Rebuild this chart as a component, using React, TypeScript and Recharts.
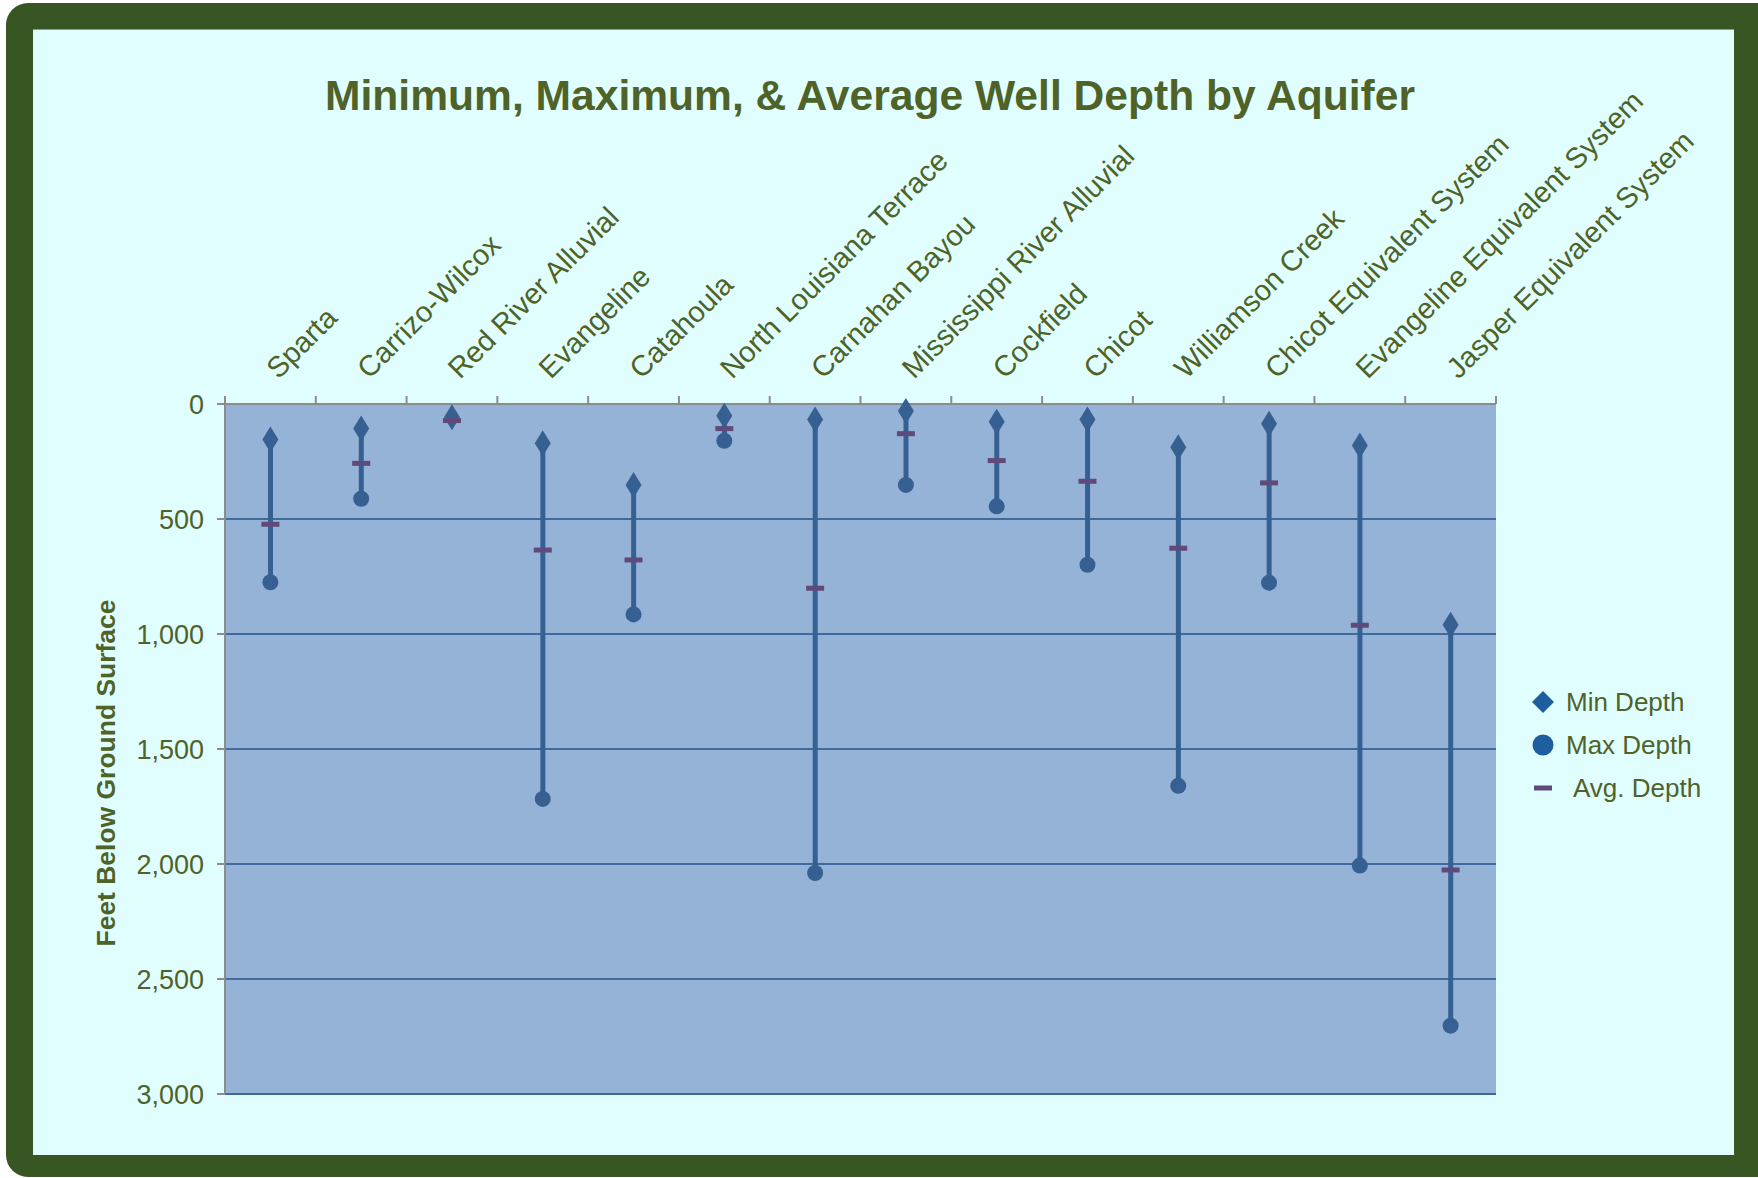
import React from 'react'
import { ComposedChart, Bar, Line, XAxis, YAxis, CartesianGrid } from 'recharts'

const aquifers = [
  'Sparta',
  'Carrizo-Wilcox',
  'Red River Alluvial',
  'Evangeline',
  'Catahoula',
  'North Louisiana Terrace',
  'Carnahan Bayou',
  'Mississippi River Alluvial',
  'Cockfield',
  'Chicot',
  'Williamson Creek',
  'Chicot Equivalent System',
  'Evangeline Equivalent System',
  'Jasper Equivalent System',
]
const minDepth = [154, 106, 58, 171, 352, 51, 67, 30, 77, 67, 188, 86, 180, 960]
const maxDepth = [775, 412, null, 1717, 915, 160, 2039, 352, 445, 699, 1660, 777, 2007, 2703]
const avgDepth = [523, 258, 72, 635, 678, 107, 801, 129, 246, 336, 627, 343, 962, 2026]
const depthTicks = [0, 500, 1000, 1500, 2000, 2500, 3000]
const seriesNames = ['Min Depth', 'Max Depth', 'Avg. Depth']

const W = 1758
const H = 1178
const PLOT_LEFT = 225
const PLOT_TOP = 404
const PLOT_RIGHT = 1496
const BAND = (PLOT_RIGHT - PLOT_LEFT) / aquifers.length

const FONT = '"Liberation Sans", Arial, sans-serif'
const TEXT = '#4F6228'
const MARK = '#366092'
const LEGEND_MARK = '#1D5E9E'
const AVG = '#604A7B'
const AXIS = '#8C8C8C'

const data = aquifers.map((name, i) => ({
  name,
  min: minDepth[i],
  max: maxDepth[i],
  avg: avgDepth[i],
  range: maxDepth[i] == null ? null : [minDepth[i], maxDepth[i]],
}))

const CategoryTick = (props: any) => {
  const { x, payload, index } = props
  const half = BAND / 2
  const tx = x + 8
  const ty = PLOT_TOP - 24
  return (
    <g>
      <line x1={x - half} x2={x - half} y1={PLOT_TOP - 8} y2={PLOT_TOP} stroke={AXIS} strokeWidth={2} />
      {index === aquifers.length - 1 && (
        <line x1={x + half} x2={x + half} y1={PLOT_TOP - 8} y2={PLOT_TOP} stroke={AXIS} strokeWidth={2} />
      )}
      <text
        x={tx}
        y={ty}
        transform={`rotate(-45, ${tx}, ${ty})`}
        fontSize={29}
        fontFamily={FONT}
        fill={TEXT}
        textAnchor="start"
      >
        {payload.value}
      </text>
    </g>
  )
}

const diamond = (props: any) => {
  const { cx, cy, index } = props
  if (cx == null || cy == null) return <g key={`d${index}`} />
  return (
    <path
      key={`d${index}`}
      d={`M${cx},${cy - 13} L${cx + 8},${cy} L${cx},${cy + 13} L${cx - 8},${cy} Z`}
      fill={MARK}
    />
  )
}

const circle = (props: any) => {
  const { cx, cy, index } = props
  if (cx == null || cy == null) return <g key={`c${index}`} />
  return <circle key={`c${index}`} cx={cx} cy={cy} r={8} fill={MARK} />
}

const dash = (props: any) => {
  const { cx, cy, index } = props
  if (cx == null || cy == null) return <g key={`a${index}`} />
  return <rect key={`a${index}`} x={cx - 9} y={cy - 2.5} width={18} height={5} fill={AVG} />
}

const LegendMarker = ({ i }: { i: number }) => (
  <svg width={26} height={26} style={{ display: 'block', flex: 'none' }}>
    {i === 0 && <path d="M13,2 L24,13 L13,24 L2,13 Z" fill={LEGEND_MARK} />}
    {i === 1 && <circle cx={13} cy={13} r={10.5} fill={LEGEND_MARK} />}
    {i === 2 && <rect x={4} y={10.5} width={18} height={5} fill={AVG} />}
  </svg>
)

const ChartLegend = () => (
  <div
    style={{
      position: 'absolute',
      left: 1530,
      top: 680,
      width: 220,
      fontFamily: FONT,
      fontSize: 26,
      color: TEXT,
    }}
  >
    {seriesNames.map((s, i) => (
      <div key={s} style={{ display: 'flex', alignItems: 'center', height: 43 }}>
        <LegendMarker i={i} />
        <span style={{ marginLeft: i === 2 ? 17 : 10, lineHeight: '26px' }}>{s}</span>
      </div>
    ))}
  </div>
)

export default function App() {
  return (
    <div style={{ position: 'absolute', left: 0, top: 0, width: W, height: H, background: '#fff', overflow: 'hidden' }}>
      <div
        style={{
          position: 'absolute',
          left: 6,
          top: 3,
          width: W - 6,
          height: H - 4,
          background: '#375623',
          borderRadius: '22px 0 0 22px',
        }}
      />
      <div
        style={{
          position: 'absolute',
          left: 33,
          top: 29,
          width: 1701,
          height: 1125,
          background: '#E0FEFE',
          borderTop: '1px solid #8FA37A',
        }}
      />
      <svg width={W} height={H} style={{ position: 'absolute', left: 0, top: 0 }}>
        <text
          x={325}
          y={110}
          fontSize={42}
          fontWeight="bold"
          fontFamily={FONT}
          fill={TEXT}
          textLength={1090}
          lengthAdjust="spacingAndGlyphs"
        >
          Minimum, Maximum, &amp; Average Well Depth by Aquifer
        </text>
        <text
          x={106}
          y={773}
          transform="rotate(-90, 106, 773)"
          fontSize={26}
          fontWeight="bold"
          fontFamily={FONT}
          fill={TEXT}
          textAnchor="middle"
          dominantBaseline="central"
          textLength={347}
          lengthAdjust="spacingAndGlyphs"
        >
          Feet Below Ground Surface
        </text>
      </svg>
      <div style={{ position: 'absolute', left: 0, top: 0 }}>
        <ComposedChart width={W} height={H} data={data} margin={{ top: 374, right: 262, bottom: 84, left: 125 }}>
          <CartesianGrid vertical={false} fill="#95B3D7" stroke="#3F6A9E" strokeWidth={2} />
          <XAxis
            dataKey="name"
            orientation="top"
            height={30}
            interval={0}
            tickLine={false}
            axisLine={{ stroke: AXIS, strokeWidth: 2 }}
            tick={<CategoryTick />}
          />
          <YAxis
            reversed
            domain={[0, 3000]}
            ticks={depthTicks}
            width={100}
            tickSize={8}
            tickMargin={13}
            axisLine={{ stroke: AXIS, strokeWidth: 2 }}
            tickLine={{ stroke: AXIS, strokeWidth: 2 }}
            tick={{ fontSize: 27, fill: TEXT, fontFamily: FONT }}
            tickFormatter={(v: number) => v.toLocaleString('en-US')}
          />
          <Bar dataKey="range" barSize={5} fill={MARK} isAnimationActive={false} legendType="none" />
          <Line dataKey="min" name="Min Depth" stroke="none" dot={diamond} activeDot={false} isAnimationActive={false} />
          <Line dataKey="max" name="Max Depth" stroke="none" dot={circle} activeDot={false} isAnimationActive={false} />
          <Line dataKey="avg" name="Avg. Depth" stroke="none" dot={dash} activeDot={false} isAnimationActive={false} />
        </ComposedChart>
      </div>
      <ChartLegend />
    </div>
  )
}
